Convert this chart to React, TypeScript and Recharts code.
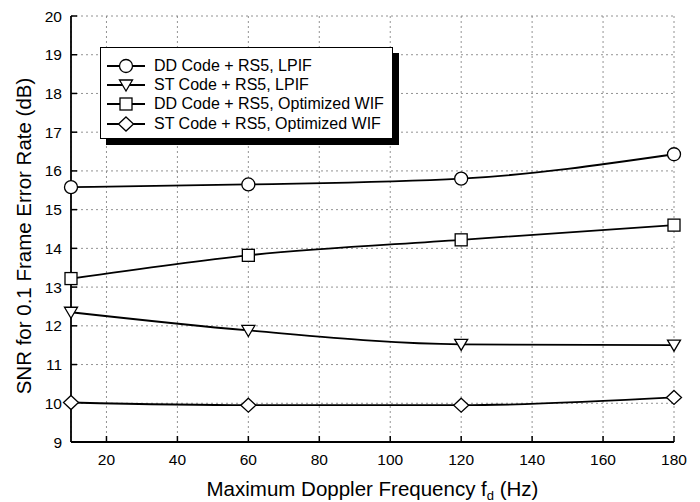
import React from "react";
import { CartesianGrid, Line, LineChart, XAxis, YAxis } from "recharts";

const freqs = [10, 60, 120, 180];
const ddLpif = [15.58, 15.65, 15.8, 16.43];
const stLpif = [12.35, 11.88, 11.52, 11.5];
const ddWif = [13.22, 13.82, 14.22, 14.6];
const stWif = [10.02, 9.95, 9.95, 10.15];

const xTicks = [20, 40, 60, 80, 100, 120, 140, 160, 180];
const yTicks = [9, 10, 11, 12, 13, 14, 15, 16, 17, 18, 19, 20];

const seriesNames = [
  "DD Code + RS5, LPIF",
  "ST Code + RS5, LPIF",
  "DD Code + RS5, Optimized WIF",
  "ST Code + RS5, Optimized WIF"
];

const data = freqs.map((f, i) => ({
  f,
  ddLpif: ddLpif[i],
  stLpif: stLpif[i],
  ddWif: ddWif[i],
  stWif: stWif[i]
}));

const FONT = "'Liberation Sans', Arial, Helvetica, sans-serif";
const INK = "#000";

type Shape = "circle" | "triangle" | "square" | "diamond";

function Marker({ cx, cy, shape }: { cx: number; cy: number; shape: Shape }) {
  const common = { fill: "#fff", stroke: INK, strokeWidth: 1.3 };
  if (shape === "circle") return <circle cx={cx} cy={cy} r={6.5} {...common} />;
  if (shape === "square") return <rect x={cx - 6} y={cy - 6} width={12} height={12} {...common} />;
  if (shape === "triangle")
    return <polygon points={`${cx - 6.5},${cy - 5} ${cx + 6.5},${cy - 5} ${cx},${cy + 6}`} {...common} />;
  return <polygon points={`${cx},${cy - 7} ${cx + 7.5},${cy} ${cx},${cy + 7} ${cx - 7.5},${cy}`} {...common} />;
}

const series: { key: string; shape: Shape }[] = [
  { key: "ddLpif", shape: "circle" },
  { key: "stLpif", shape: "triangle" },
  { key: "ddWif", shape: "square" },
  { key: "stWif", shape: "diamond" }
];

const axisLine = { stroke: INK, strokeWidth: 1.8 };
const tickStyle = { fill: INK, fontSize: 15.5, fontFamily: FONT };

export default function App() {
  return (
    <div style={{ position: "absolute", left: 0, top: 0, width: 700, height: 502, background: "#fff" }}>
      <LineChart width={700} height={502} data={data} margin={{ top: 16, right: 26, bottom: 0, left: 0 }}>
        <CartesianGrid stroke="#777" strokeDasharray="2 3" strokeWidth={0.8} />
        <XAxis
          dataKey="f"
          type="number"
          domain={[10, 180]}
          ticks={xTicks}
          height={60}
          tickSize={-6}
          tickMargin={18}
          axisLine={axisLine}
          tickLine={{ stroke: INK, strokeWidth: 1.5 }}
          tick={tickStyle}
          label={{
            content: ({ viewBox }: any) => (
              <text
                x={viewBox.x + viewBox.width / 2}
                y={496}
                textAnchor="middle"
                fontSize={20.5}
                fontFamily={FONT}
                fill={INK}
              >
                Maximum Doppler Frequency f
                <tspan fontSize={13} dy={4}>d</tspan>
                <tspan dy={-4}> (Hz)</tspan>
              </text>
            )
          }}
        />
        <XAxis
          xAxisId="top"
          orientation="top"
          dataKey="f"
          type="number"
          domain={[10, 180]}
          ticks={xTicks}
          height={0}
          tickSize={-6}
          tickFormatter={() => ""}
          axisLine={axisLine}
          tickLine={{ stroke: INK, strokeWidth: 1.5 }}
        />
        <YAxis
          type="number"
          domain={[9, 20]}
          ticks={yTicks}
          width={71}
          tickSize={-6}
          tickMargin={15}
          axisLine={axisLine}
          tickLine={{ stroke: INK, strokeWidth: 1.5 }}
          tick={tickStyle}
          label={{
            content: () => (
              <text
                x={0}
                y={0}
                transform="translate(31,236) rotate(-90)"
                textAnchor="middle"
                fontSize={20.5}
                fontFamily={FONT}
                fill={INK}
              >
                SNR for 0.1 Frame Error Rate (dB)
              </text>
            )
          }}
        />
        <YAxis
          yAxisId="right"
          orientation="right"
          type="number"
          domain={[9, 20]}
          ticks={yTicks}
          width={0}
          tickSize={-6}
          tickFormatter={() => ""}
          axisLine={axisLine}
          tickLine={{ stroke: INK, strokeWidth: 1.5 }}
        />
        {series.map((s) => (
          <Line
            key={s.key}
            dataKey={s.key}
            type="monotone"
            stroke={INK}
            strokeWidth={1.8}
            isAnimationActive={false}
            dot={(p: any) => <Marker key={`${s.key}-${p.index}`} cx={p.cx} cy={p.cy} shape={s.shape} />}
            activeDot={false}
          />
        ))}
      </LineChart>
      <div
        style={{
          position: "absolute",
          left: 100,
          top: 47,
          width: 293,
          height: 92,
          background: "#fff",
          border: "1px solid #000",
          boxShadow: "6px 6px 0 #000",
          boxSizing: "border-box",
          paddingTop: 8,
          fontFamily: FONT,
          fontSize: 16
        }}
      >
        {series.map((s, i) => (
          <div key={s.key} style={{ display: "flex", alignItems: "center", height: 19.4 }}>
            <svg width={53} height={18} style={{ flex: "none" }}>
              <line x1={6} y1={9} x2={44} y2={9} stroke={INK} strokeWidth={1.8} />
              <Marker cx={25} cy={9} shape={s.shape} />
            </svg>
            <span style={{ color: INK, whiteSpace: "nowrap" }}>{seriesNames[i]}</span>
          </div>
        ))}
      </div>
    </div>
  );
}
